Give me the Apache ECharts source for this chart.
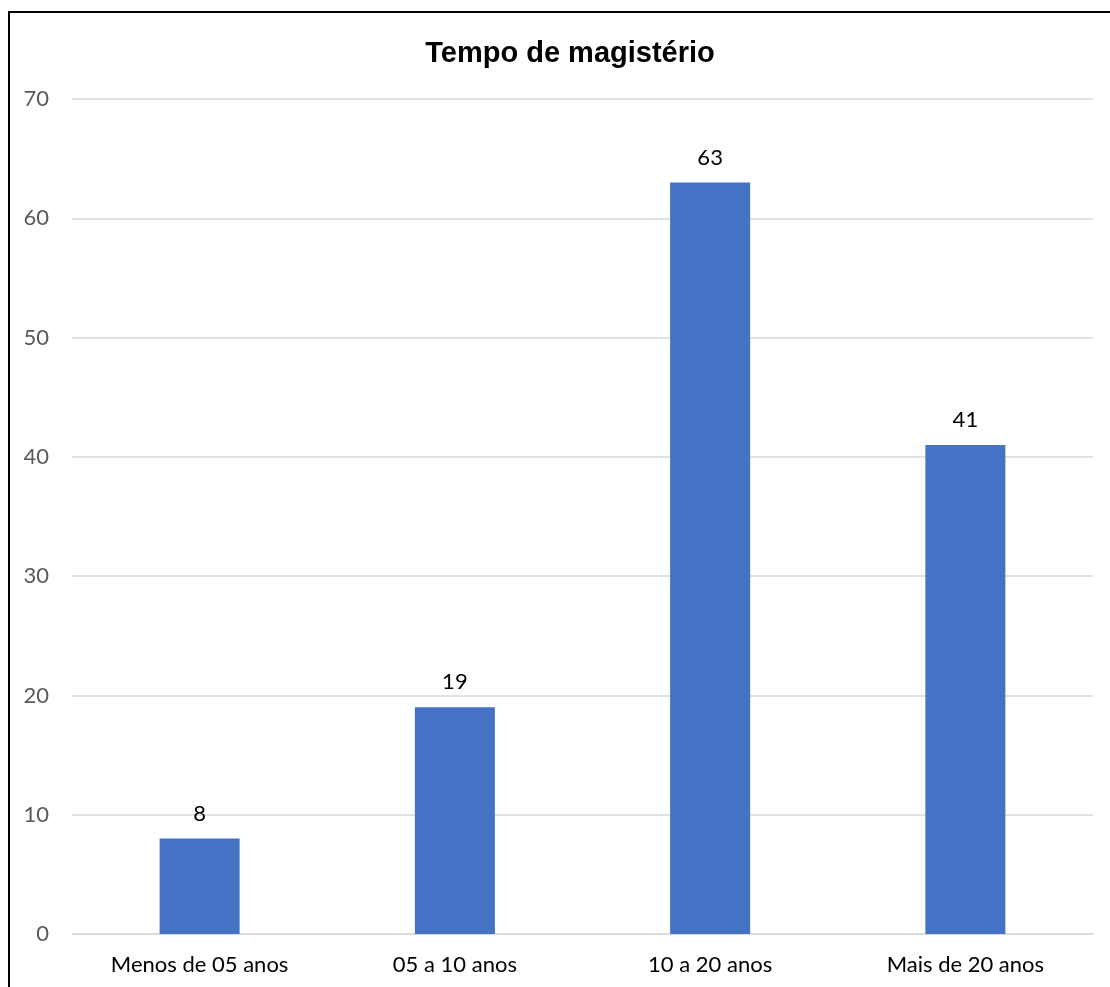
<!DOCTYPE html>
<html>
<head>
<meta charset="utf-8">
<script src="https://cdn.jsdelivr.net/npm/echarts@6/dist/echarts.min.js"></script>
<style>
  html, body { margin: 0; padding: 0; background: #fff; }
  #frame { position: absolute; left: 8px; top: 11px; width: 1110px; height: 990px;
           border-top: 2px solid #000; border-left: 2px solid #000; box-sizing: border-box; }
  #chart { position: absolute; left: 0; top: 0; width: 1110px; height: 987px; }
</style>
</head>
<body>
<div id="frame"></div>
<div id="chart"></div>
<script>
// Teaching experience of respondents
const chartTitle = 'Tempo de magistério';
const categories = ['Menos de 05 anos', '05 a 10 anos', '10 a 20 anos', 'Mais de 20 anos'];
const values = [8, 19, 63, 41];
const yTicks = { min: 0, max: 70, interval: 10 };

const labelFont = 'Lato, "Open Sans", sans-serif';

const chart = echarts.init(document.getElementById('chart'), null, { renderer: 'canvas' });
chart.setOption({
  backgroundColor: 'transparent',
  animation: false,
  title: {
    text: chartTitle,
    left: 565,
    top: 34,
    textAlign: 'center',
    textStyle: { fontFamily: '"Liberation Sans", Arial, sans-serif', fontWeight: 'bold', fontSize: 29, color: '#000' }
  },
  grid: { left: 72, right: 17, top: 99, bottom: 53, containLabel: false },
  xAxis: {
    type: 'category',
    data: categories,
    axisTick: { show: false },
    axisLine: { show: true, lineStyle: { color: '#d9d9d9', width: 1.5 } },
    axisLabel: { fontFamily: labelFont, fontSize: 22, color: '#000', margin: 20, interval: 0 }
  },
  yAxis: {
    type: 'value',
    min: yTicks.min,
    max: yTicks.max,
    interval: yTicks.interval,
    axisLine: { show: false },
    axisTick: { show: false },
    splitLine: { lineStyle: { color: '#d9d9d9', width: 1.5 } },
    axisLabel: { fontFamily: labelFont, fontSize: 22, color: '#595959', margin: 23 }
  },
  series: [{
    type: 'bar',
    data: values,
    barWidth: 80,
    itemStyle: { color: '#4472C4' },
    label: {
      show: true,
      position: 'top',
      distance: 14,
      fontFamily: labelFont,
      fontSize: 22,
      color: '#000'
    }
  }]
});
</script>
</body>
</html>
